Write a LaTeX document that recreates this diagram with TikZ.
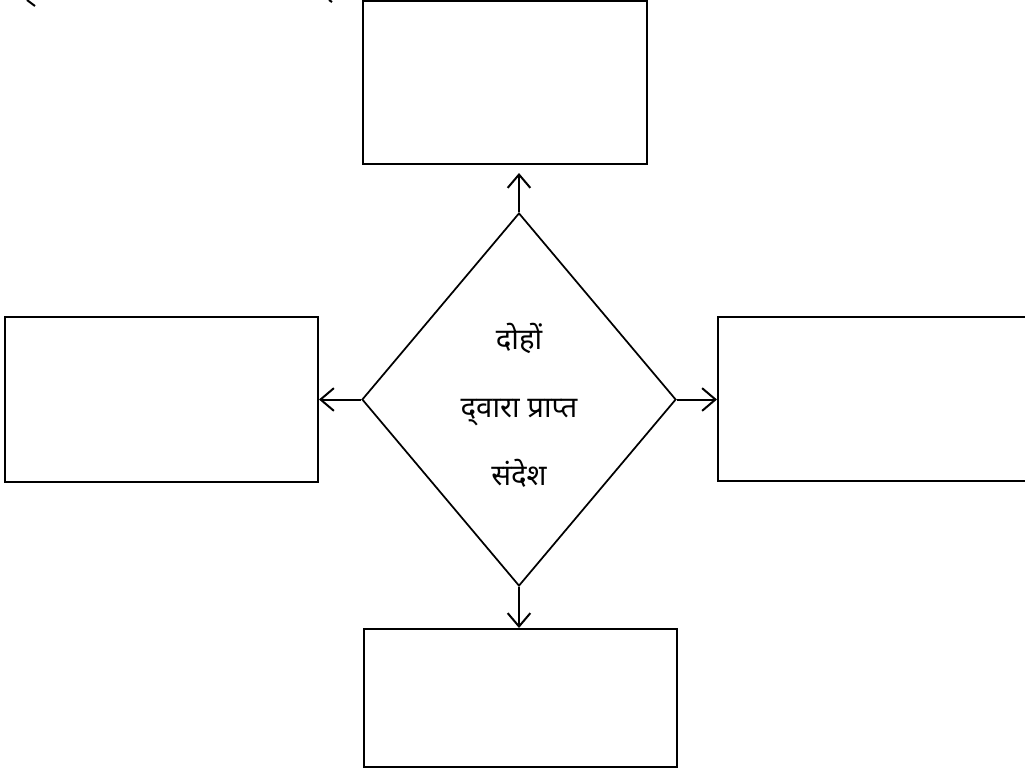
\documentclass[tikz,border=0pt]{standalone}
\usepackage{fontspec}
\newfontfamily\devfont[Script=Devanagari]{Noto Sans}
\usetikzlibrary{shapes.geometric,arrows.meta}
\tikzset{
  box/.style={draw,line width=1.5pt,rectangle,inner sep=0pt},
  dia/.style={draw,line width=1.3pt,diamond,inner sep=0pt},
  conn/.style={line width=1.5pt,-{Straight Barb[length=10pt,width=17pt,line width=1.5pt]}},
  lbl/.style={font=\devfont\fontsize{22}{51}\selectfont,align=center,inner sep=0pt}
}
\begin{document}
\begin{tikzpicture}[x=0.75pt,y=-0.75pt]
\useasboundingbox (0,0) rectangle (1025,772);
\node[box,minimum width=213pt,minimum height=122.25pt] (top) at (505,82.5) {};
\node[box,minimum width=234.75pt,minimum height=123.75pt] (left) at (161.5,399.5) {};
\node[box,minimum width=237.75pt,minimum height=123pt] (right) at (876.5,399) {};
\node[box,minimum width=234.75pt,minimum height=103.5pt] (bottom) at (520.5,698) {};
\node[dia,minimum width=235.5pt,minimum height=279.75pt] (d) at (519,399.5) {};
\node[lbl] (txt) at (519,405) {दोहों\\द्‌वारा प्राप्त\\संदेश};
\draw[conn,shorten >=6pt] (d.north) -- (d.north |- top.south);
\draw[conn] (d.west) -- (d.west -| left.east);
\draw[conn] (d.east) -- (d.east -| right.west);
\draw[conn] (d.south) -- (d.south |- bottom.north);
\draw[line width=1.5pt] (27,0) -- (35,6);
\draw[line width=1.5pt] (329,0) -- (332,2);
\end{tikzpicture}
\end{document}
